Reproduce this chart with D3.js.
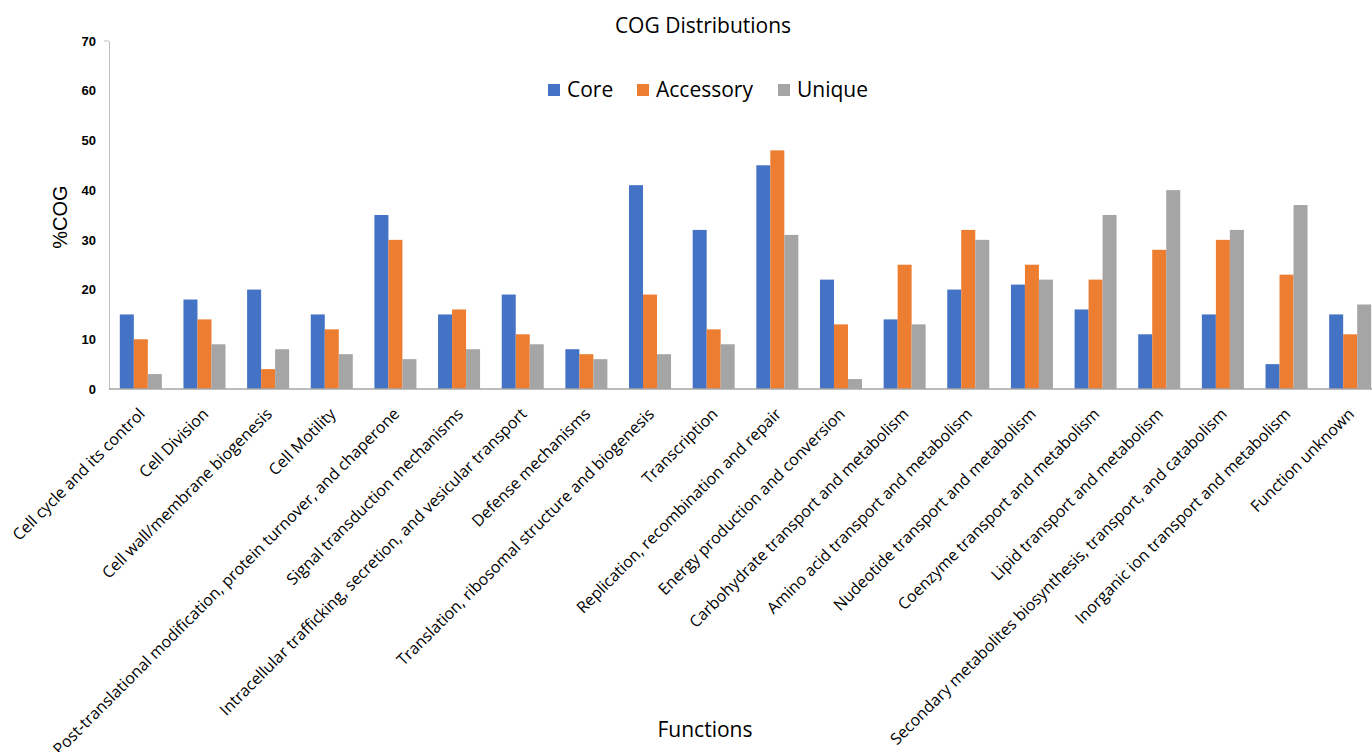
<!DOCTYPE html>
<html>
<head>
<meta charset="utf-8">
<script src="https://cdn.jsdelivr.net/npm/d3@7"></script>
<style>
  html, body { margin: 0; padding: 0; background: #fff; }
  svg { display: block; }
</style>
</head>
<body>
<svg id="chart" width="1372" height="752"></svg>
<script>
// COG functional categories
const categories = [
  "Cell cycle and its control",
  "Cell Division",
  "Cell wall/membrane biogenesis",
  "Cell Motility",
  "Post-translational modification, protein turnover, and chaperone",
  "Signal transduction mechanisms",
  "Intracellular trafficking, secretion, and vesicular transport",
  "Defense mechanisms",
  "Translation, ribosomal structure and biogenesis",
  "Transcription",
  "Replication, recombination and repair",
  "Energy production and conversion",
  "Carbohydrate transport and metabolism",
  "Amino acid transport and metabolism",
  "Nudeotide transport and metabolism",
  "Coenzyme transport and metabolism",
  "Lipid transport and metabolism",
  "Secondary metabolites biosynthesis, transport, and catabolism",
  "Inorganic ion transport and metabolism",
  "Function unknown"
];

const seriesNames = ["Core", "Accessory", "Unique"];
const seriesColors = ["#4472C4", "#ED7D31", "#A5A5A5"];

// %COG per category
const core      = [15, 18, 20, 15, 35, 15, 19, 8, 41, 32, 45, 22, 14, 20, 21, 16, 11, 15, 5, 15];
const accessory = [10, 14, 4, 12, 30, 16, 11, 7, 19, 12, 48, 13, 25, 32, 25, 22, 28, 30, 23, 11];
const unique    = [3, 9, 8, 7, 6, 8, 9, 6, 7, 9, 31, 2, 13, 30, 22, 35, 40, 32, 37, 17];

const yTicks = [0, 10, 20, 30, 40, 50, 60, 70];

const seriesValues = [core, accessory, unique];
const rows = categories.map((c, i) => ({
  category: c,
  values: seriesNames.map((s, j) => ({ series: s, value: seriesValues[j][i], color: seriesColors[j] }))
}));

const svg = d3.select("#chart");
const plotLeft = 109, plotRight = 1382, plotTop = 41, plotBottom = 389;
const sansFont = "'Open Sans', 'Liberation Sans', sans-serif";

const x0 = d3.scaleBand()
  .domain(categories)
  .range([plotLeft, plotRight])
  .paddingInner(0.34)
  .paddingOuter(0.17);

const x1 = d3.scaleBand()
  .domain(seriesNames)
  .range([0, x0.bandwidth()]);

const y = d3.scaleLinear().domain([0, 70]).range([plotBottom, plotTop]);

// Title
svg.append("text")
  .attr("x", 703).attr("y", 33)
  .attr("text-anchor", "middle")
  .attr("font-family", sansFont)
  .attr("font-size", 21)
  .attr("fill", "#000")
  .text("COG Distributions");

// Bars
const groups = svg.append("g").selectAll("g")
  .data(rows)
  .join("g")
  .attr("transform", d => `translate(${x0(d.category)},0)`);

groups.selectAll("rect")
  .data(d => d.values)
  .join("rect")
  .attr("x", d => x1(d.series))
  .attr("width", x1.bandwidth())
  .attr("y", d => y(d.value))
  .attr("height", d => y(0) - y(d.value))
  .attr("fill", d => d.color);

// Y axis
const yAxis = svg.append("g")
  .attr("transform", `translate(${plotLeft},0)`)
  .call(d3.axisLeft(y).tickValues(yTicks).tickSize(0).tickPadding(13));
yAxis.select(".domain").attr("stroke", "#BFBFBF").attr("stroke-width", 1);
yAxis.selectAll("text")
  .attr("font-family", "'Liberation Sans', Arial, sans-serif")
  .attr("font-weight", "bold")
  .attr("font-size", 13)
  .attr("fill", "#000");
yAxis.append("line")
  .attr("x1", -5).attr("x2", 0)
  .attr("y1", y(70)).attr("y2", y(70))
  .attr("stroke", "#BFBFBF");

// X axis baseline and rotated category labels
const xAxis = svg.append("g")
  .attr("transform", `translate(0,${plotBottom})`)
  .call(d3.axisBottom(x0).tickSize(0).tickPadding(0));
xAxis.select(".domain").attr("stroke", "#A6A6A6").attr("stroke-width", 1.5)
  .attr("d", `M${plotLeft},0H1372`);
xAxis.selectAll(".tick text")
  .attr("font-family", sansFont)
  .attr("font-size", 16)
  .attr("fill", "#000")
  .attr("text-anchor", "end")
  .attr("dy", 0)
  .attr("transform", "translate(5,26) rotate(-45)");

// Axis titles
svg.append("text")
  .attr("transform", "translate(67,217) rotate(-90)")
  .attr("text-anchor", "middle")
  .attr("font-family", "'Liberation Sans', Arial, sans-serif")
  .attr("font-size", 20)
  .attr("fill", "#000")
  .text("%COG");

svg.append("text")
  .attr("x", 705).attr("y", 737)
  .attr("text-anchor", "middle")
  .attr("font-family", sansFont)
  .attr("font-size", 21)
  .attr("fill", "#000")
  .text("Functions");

// Legend
const legendX = [548, 637, 778];
const legend = svg.append("g").selectAll("g")
  .data(seriesNames)
  .join("g")
  .attr("transform", (d, i) => `translate(${legendX[i]},84)`);
legend.append("rect")
  .attr("width", 12).attr("height", 12)
  .attr("fill", (d, i) => seriesColors[i]);
legend.append("text")
  .attr("x", 19).attr("y", 13)
  .attr("font-family", sansFont)
  .attr("font-size", 21)
  .attr("fill", "#000")
  .text(d => d);
</script>
</body>
</html>
